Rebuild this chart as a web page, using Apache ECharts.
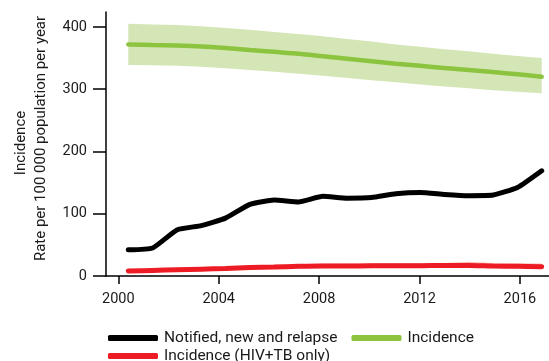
<!DOCTYPE html>
<html><head><meta charset="utf-8">
<script src="https://cdn.jsdelivr.net/npm/echarts@6/dist/echarts.min.js"></script>
<style>html,body{margin:0;padding:0;background:#fff}#c{width:549px;height:361px}</style>
</head><body><div id="c"></div>
<script>
const years = [2000,2001,2002,2003,2004,2005,2006,2007,2008,2009,2010,2011,2012,2013,2014,2015,2016,2017];
const notified = [42,45,74,81,93,115,122,119,128,125,126,132,134,131,129,130,142,169];
const incidence = [372,371,370,368.5,366,363,360,357,353,349,345,341,337.5,334,331,327.5,324,320];
const incidenceHi = [405,404,403,401,398.5,395.5,392,388.5,385,380.5,376.5,372,368,364,361,357,353.5,350];
const incidenceLo = [339,338.5,337.5,336,333.5,331,328,325,321.5,318,314.5,311,307.5,304.5,301.5,298.5,296,293.5];
const hivInc = [8,9,10,11,12,13.5,14.5,15.5,16,16,16.5,16.5,16.5,17,17,16,15.5,15];
const hivHi = [10,11,12.5,13.5,15,16.5,18,19,20,20,20.5,20.5,20.5,21,23,21,20.5,20];
const hivLo = [6,7,8,9,10,11,12,13,13.5,13.5,14,14,14,14.5,14.5,13.5,13,12.5];
const xTicks = [2000,2004,2008,2012,2016];
const yTicks = [0,100,200,300,400];

const pair = (arr) => years.map((y,i)=>[y, arr[i]]);
const FONT = 'Roboto';
const TXT = '#1a1a1a';

function bandSeries(name, hi, lo, color){
  return {
    name:name, type:'custom', xAxisIndex:1, silent:true, z:1, clip:true,
    data: years.map((y,i)=>[y, hi[i], lo[i]]),
    encode:{x:0, y:[1,2]},
    renderItem:function(params, api){
      if (params.dataIndex !== 0) return null;
      const top = years.map((y,i)=>api.coord([y, hi[i]]));
      const bot = years.map((y,i)=>api.coord([y, lo[i]])).reverse();
      return {type:'polygon', shape:{points: top.concat(bot)}, style:{fill:color}};
    }
  };
}

const chart = echarts.init(document.getElementById('c'), null, {renderer:'canvas'});
chart.setOption({
  animation:false,
  textStyle:{fontFamily:FONT},
  grid:{left:106, right:0, top:12, bottom:85, containLabel:false},
  xAxis:[{
    type:'value', min:1999.51, max:2017.16,
    axisLine:{show:true, lineStyle:{color:'#000', width:1.5}},
    axisTick:{show:true, length:8, customValues:xTicks, lineStyle:{color:'#000', width:1.5}},
    axisLabel:{customValues:xTicks, margin:16, fontSize:14.5, color:TXT, fontFamily:FONT, formatter:v=>String(v)},
    splitLine:{show:false}
  },{
    type:'value', min:1999.083, max:2017.3, show:false
  }],
  yAxis:{
    type:'value', min:0, max:424,
    axisLine:{show:true, lineStyle:{color:'#000', width:1.5}},
    axisTick:{show:true, length:13, customValues:yTicks, lineStyle:{color:'#000', width:1.5}},
    axisLabel:{customValues:yTicks, margin:19, fontSize:14.5, color:TXT, fontFamily:FONT, formatter:v=>String(v)},
    splitLine:{show:false}
  },
  graphic:[
    {type:'text', x:21, y:143, rotation:Math.PI/2, style:{text:'Incidence', textAlign:'center', textVerticalAlign:'middle', font:'15px Roboto', fill:TXT}},
    {type:'text', x:41, y:138.5, rotation:Math.PI/2, style:{text:'Rate per 100 000 population per year', textAlign:'center', textVerticalAlign:'middle', font:'15px Roboto', fill:TXT}}
  ],
  legend:[{
    left:103, top:325, itemWidth:50, itemHeight:6, itemGap:14, icon:'roundRect',
    textStyle:{fontSize:15.5, color:TXT, fontFamily:FONT, padding:[0,0,0,1]},
    data:['Notified, new and relapse','Incidence']
  },{
    left:103, top:343, itemWidth:50, itemHeight:6, icon:'roundRect',
    textStyle:{fontSize:15.5, color:TXT, fontFamily:FONT, padding:[0,0,0,1]},
    data:['Incidence (HIV+TB only)']
  }],
  series:[
    bandSeries('incBand', incidenceHi, incidenceLo, '#d4e6b5'),
    bandSeries('hivBand', hivHi, hivLo, '#f8c0b4'),
    {name:'Incidence', type:'line', xAxisIndex:1, data:pair(incidence), symbol:'none', smooth:0.3, itemStyle:{color:'#8cc43f'}, lineStyle:{color:'#8cc43f', width:4.5, cap:'round'}, z:3},
    {name:'Incidence (HIV+TB only)', type:'line', xAxisIndex:1, data:pair(hivInc), symbol:'none', smooth:0.3, itemStyle:{color:'#ed1c24'}, lineStyle:{color:'#ed1c24', width:5, cap:'round'}, z:3},
    {name:'Notified, new and relapse', type:'line', xAxisIndex:1, data:pair(notified), symbol:'none', smooth:0.15, itemStyle:{color:'#000'}, lineStyle:{color:'#000', width:5, cap:'round', join:'round'}, z:4}
  ]
});
</script>
</body></html>
